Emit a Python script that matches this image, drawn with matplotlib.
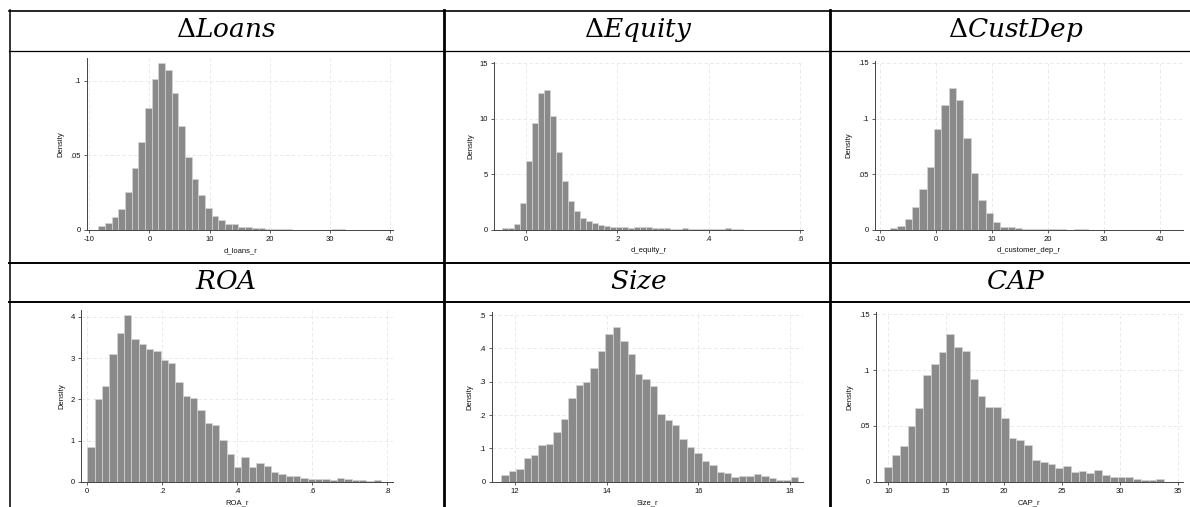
import numpy as np
import matplotlib.pyplot as plt
from matplotlib.lines import Line2D

W, H = 1190, 507
plt.rcParams['font.family'] = ['Liberation Sans', 'DejaVu Sans']
plt.rcParams['mathtext.fontset'] = 'dejavuserif'

# d_loans_r
loans_start, loans_width = -8.5, 1.11
loans_dens = [0.0027, 0.0049, 0.0085, 0.0138, 0.0257, 0.0417, 0.0589, 0.0817,
              0.1011, 0.1121, 0.1069, 0.0917, 0.0694, 0.0491, 0.0342, 0.0234,
              0.0150, 0.0092, 0.0069, 0.0042, 0.0040, 0.0020, 0.0018, 0.0016,
              0.0011, 0.0009, 0.0007, 0.0004, 0.0005, 0.0003, 0.0003, 0.0002,
              0.0003, 0.0002, 0.0002, 0.0005, 0.0004, 0.0002, 0.0002, 0.0003,
              0.0002, 0.0001, 0.0001, 0.0001]

# d_equity_r
equity_start, equity_width = -0.0518, 0.01314
equity_dens = [0.18, 0.18, 0.54, 2.4, 6.24, 9.63, 12.33, 12.63, 10.29, 6.99,
               4.41, 2.61, 1.74, 1.08, 0.84, 0.60, 0.42, 0.33, 0.30, 0.24,
               0.27, 0.21, 0.27, 0.24, 0.27, 0.18, 0.18, 0.18, 0.12, 0.12,
               0.15, 0.10, 0.10, 0.12, 0.10, 0.08, 0.10, 0.15, 0.08, 0.06,
               0.04, 0.03, 0.02, 0.02, 0.01, 0.01, 0.01, 0.01, 0.01, 0.01]

# d_customer_dep_r
cust_start, cust_width = -8.21, 1.31
cust_dens = [0.0018, 0.0039, 0.0099, 0.0210, 0.0368, 0.0569, 0.0904, 0.1120,
             0.1272, 0.1162, 0.0829, 0.0509, 0.0269, 0.0156, 0.0070, 0.0030,
             0.0028, 0.0015, 0.0010, 0.0009, 0.0008, 0.0007, 0.0005, 0.0006,
             0.0004, 0.0006, 0.0005, 0.0003, 0.0003, 0.0003, 0.0004, 0.0002,
             0.0002, 0.0003, 0.0002, 0.0002, 0.0001, 0.0002, 0.0002]

# ROA_r
roa_start, roa_width = 0.0, 0.0196
roa_dens = [0.84, 2.01, 2.33, 3.09, 3.61, 4.06, 3.47, 3.34, 3.22, 3.17,
            2.96, 2.88, 2.43, 2.08, 2.04, 1.75, 1.43, 1.37, 1.02, 0.67,
            0.36, 0.61, 0.36, 0.45, 0.38, 0.23, 0.19, 0.13, 0.13, 0.08,
            0.07, 0.07, 0.06, 0.04, 0.09, 0.06, 0.05, 0.03, 0.02, 0.03]

# Size_r
size_start, size_width = 11.70, 0.162
size_dens = [0.020, 0.032, 0.037, 0.070, 0.080, 0.109, 0.114, 0.149, 0.187, 0.250,
             0.289, 0.299, 0.342, 0.392, 0.444, 0.465, 0.421, 0.383, 0.324, 0.309,
             0.288, 0.203, 0.185, 0.169, 0.128, 0.104, 0.087, 0.063, 0.051, 0.028,
             0.025, 0.015, 0.016, 0.016, 0.023, 0.016, 0.012, 0.004, 0.006, 0.015]

# CAP_r
cap_start, cap_width = 9.65, 0.672
cap_dens = [0.0129, 0.0236, 0.0323, 0.0496, 0.0657, 0.0959, 0.1055, 0.1166, 0.1321,
            0.1204, 0.1175, 0.0923, 0.0771, 0.0672, 0.0672, 0.0568, 0.0389, 0.0371,
            0.0326, 0.0191, 0.0176, 0.0158, 0.0120, 0.0140, 0.0084, 0.0093, 0.0075,
            0.0102, 0.0063, 0.0042, 0.0039, 0.0039, 0.0027, 0.0018, 0.0015, 0.0021]

titles = [r'$\Delta Loans$', r'$\Delta Equity$', r'$\Delta CustDep$',
          r'$ROA$', r'$Size$', r'$CAP$']

fig = plt.figure(figsize=(W / 100, H / 100), dpi=100)


def add_box(x0, y0, x1, y1):
    return fig.add_axes([x0 / W, 1 - y1 / H, (x1 - x0) / W, (y1 - y0) / H])


def hist_panel(box, start, width, dens, xlim, ylim, xticks, xlabels,
               yticks, ylabels, xlabel):
    ax = add_box(*box)
    dens = np.asarray(dens)
    edges = start + width * np.arange(len(dens))
    ax.bar(edges, dens, width=width, align='edge', color='#8a8a8a',
           edgecolor='#d4d4d4', linewidth=0.5, zorder=2)
    ax.set_xlim(*xlim)
    ax.set_ylim(*ylim)
    ax.set_xticks(xticks)
    ax.set_xticklabels(xlabels)
    ax.set_yticks(yticks)
    ax.set_yticklabels(ylabels)
    ax.grid(True, color='#e6e6e6', linestyle=(0, (4, 3)), linewidth=0.6, zorder=0)
    for s in ['top', 'right']:
        ax.spines[s].set_visible(False)
    for s in ['left', 'bottom']:
        ax.spines[s].set_color('#444444')
        ax.spines[s].set_linewidth(0.7)
    ax.tick_params(labelsize=5.5, length=2.5, width=0.6, color='#444444',
                   pad=2, labelcolor='#111111')
    ax.set_ylabel('Density', fontsize=5.5, labelpad=4, color='#111111')
    ax.set_xlabel(xlabel, fontsize=5.5, labelpad=3, color='#111111')
    return ax


hist_panel((87, 58.3, 393, 230), loans_start, loans_width, loans_dens,
           (-10.38, 40.5), (0, 0.115), [-10, 0, 10, 20, 30, 40],
           ['-10', '0', '10', '20', '30', '40'], [0, 0.05, 0.1], ['0', '.05', '.1'],
           'd_loans_r')
hist_panel((494.3, 61.7, 802.7, 230), equity_start, equity_width, equity_dens,
           (-0.0695, 0.6055), (0, 15.15), [0, 0.2, 0.4, 0.6],
           ['0', '.2', '.4', '.6'], [0, 5, 10, 15], ['0', '5', '10', '15'],
           'd_equity_r')
hist_panel((875, 61, 1182.7, 230), cust_start, cust_width, cust_dens,
           (-10.9, 44.0), (0, 0.1516), [-10, 0, 10, 20, 30, 40],
           ['-10', '0', '10', '20', '30', '40'], [0, 0.05, 0.1, 0.15],
           ['0', '.05', '.1', '.15'], 'd_customer_dep_r')
hist_panel((81, 310, 393.3, 481.7), roa_start, roa_width, roa_dens,
           (-0.0166, 0.8166), (0, 4.17), [0, 0.2, 0.4, 0.6, 0.8],
           ['0', '.2', '.4', '.6', '.8'], [0, 1, 2, 3, 4], ['0', '1', '2', '3', '4'],
           'ROA_r')
hist_panel((491.7, 311.7, 803.3, 481.7), size_start, size_width, size_dens,
           (11.49, 18.29), (0, 0.51), [12, 14, 16, 18], ['12', '14', '16', '18'],
           [0, 0.1, 0.2, 0.3, 0.4, 0.5], ['0', '.1', '.2', '.3', '.4', '.5'],
           'Size_r')
hist_panel((875.7, 311.7, 1182.7, 481.7), cap_start, cap_width, cap_dens,
           (8.91, 35.44), (0, 0.1523), [10, 15, 20, 25, 30, 35],
           ['10', '15', '20', '25', '30', '35'], [0, 0.05, 0.1, 0.15],
           ['0', '.05', '.1', '.15'], 'CAP_r')

# table frame
def hline(y, x0, x1, lw):
    fig.add_artist(Line2D([x0 / W, x1 / W], [1 - y / H, 1 - y / H], color='black',
                          linewidth=lw, transform=fig.transFigure))


def vline(x, y0, y1, lw):
    fig.add_artist(Line2D([x / W, x / W], [1 - y0 / H, 1 - y1 / H], color='black',
                          linewidth=lw, transform=fig.transFigure))


hline(10.5, 9, W, 1.2)
hline(50.5, 9, W, 0.9)
hline(262.5, 9, W, 1.4)
hline(301.5, 9, W, 1.4)
vline(9.5, 10, H, 1.1)
vline(444, 10, H, 2.0)
vline(830, 10, H, 2.0)

title_x = [226, 638, 1016, 226, 638, 1016]
title_y = [30, 30, 30, 282, 282, 282]
for t, x, y in zip(titles, title_x, title_y):
    fig.text(x / W, 1 - y / H, t, fontsize=19, ha='center', va='center')

fig.savefig('out.png', dpi=100)
